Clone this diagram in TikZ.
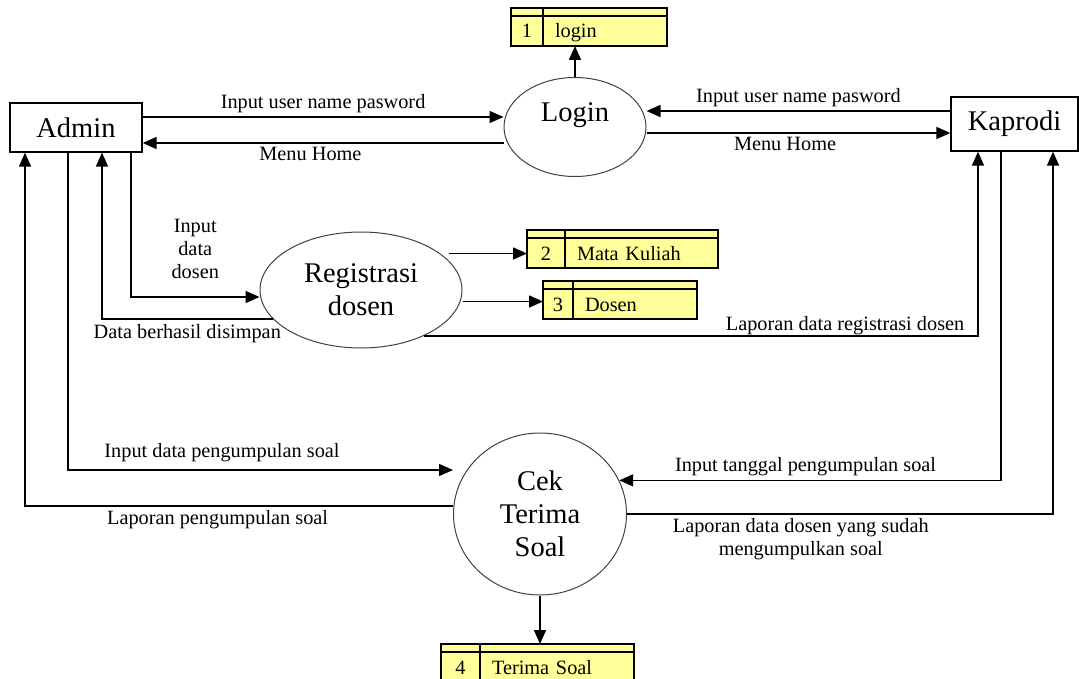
\documentclass[tikz,border=0pt]{standalone}
\usepackage{fontspec}
\setmainfont{Liberation Serif}
\usetikzlibrary{positioning, arrows.meta, shapes.geometric, calc}
\definecolor{store-yellow}{HTML}{FFFF99}
\definecolor{proc-grey}{HTML}{404040}

\tikzset{
  entity/.style={draw, line width=1.3pt, inner sep=0pt, font=\fontsize{28.5}{33}\selectfont},
  process/.style={ellipse, draw=proc-grey, line width=1pt, inner sep=0pt, align=center, font=\fontsize{28.5}{33}\selectfont},
  storecell/.style={draw, line width=1.3pt, fill=store-yellow, outer sep=0pt, inner sep=0pt,
    minimum height=38pt, text height=26pt, text depth=4pt, font=\fontsize{20.3}{23}\selectfont,
    path picture={\draw[line width=1.3pt] ([yshift=-8pt]path picture bounding box.north west) -- ([yshift=-8pt]path picture bounding box.north east);}},
  storename/.style={storecell, align=left},
  flow/.style={->, line width=1.6pt},
  flowlabel/.style={font=\fontsize{20.3}{23}\selectfont}
}

\begin{document}
\begin{tikzpicture}[x=1pt, y=-1pt, >={Triangle[length=14pt,width=12pt]}]
\useasboundingbox (0,0) rectangle (1079,679);

% external entities
\node[entity, minimum width=132pt, minimum height=49pt] (admin) at (76,127.5) {Admin};
\node[entity, minimum width=127pt, minimum height=54pt] (kaprodi) at (1014.5,124) {Kaprodi};

% processes
\node[process, minimum width=142pt, minimum height=99pt, text depth=30pt] (login) at (575,127) {Login};
\node[process, minimum width=202pt, minimum height=116pt] (reg) at (361,290) {Registrasi\\dosen};
\node[process, minimum width=173pt, minimum height=162pt] (cek) at (540,514) {Cek\\Terima\\Soal};

% data stores
\node[storecell, minimum width=32pt, anchor=north west] (s1n) at (511,8) {1};
\node[storename, minimum width=124pt, text width=100pt, right=0pt of s1n] (s1) {login};
\node[storecell, minimum width=38pt, anchor=north west] (s2n) at (527,230) {2};
\node[storename, minimum width=153pt, text width=129pt, right=0pt of s2n] (s2) {Mata Kuliah};
\node[storecell, minimum width=30pt, anchor=north west] (s3n) at (543,281) {3};
\node[storename, minimum width=124pt, text width=100pt, right=0pt of s3n] (s3) {Dosen};
\node[storecell, minimum width=39pt, anchor=north west] (s4n) at (441,644) {4};
\node[storename, minimum width=154pt, text width=130pt, right=0pt of s4n] (s4) {Terima Soal};

% login flows
\draw[flow] ([yshift=10.5pt]admin.east) -- ([yshift=10.5pt]admin.east -| login.west)
  node[flowlabel, midway, above] (l1) {Input user name pasword};
\draw[flow] ([yshift=-15.5pt]admin.east -| login.west) -- ([yshift=-15.5pt]admin.east)
  node[flowlabel, pos=0.535, below] (l2) {Menu Home};
\draw[flow] ([yshift=13pt]kaprodi.west) -- ([yshift=13pt]kaprodi.west -| login.east)
  node[flowlabel, midway, above] (l3) {Input user name pasword};
\draw[flow] ([yshift=-9pt]kaprodi.west -| login.east) -- ([yshift=-9pt]kaprodi.west)
  node[flowlabel, pos=0.456, below] (l4) {Menu Home};
\draw[flow] (login.north) -- (login.north |- s1n.south);

% registrasi flows
\draw[flow] ([xshift=55pt]admin.south) |- ([yshift=-7pt]reg.west)
  node[flowlabel, pos=0.75, above=14pt, align=center] (l5) {Input\\data\\dosen};
\draw[flow] (reg.198) -| ([xshift=26pt]admin.south)
  node[flowlabel, pos=0.25, below=2pt] (l6) {Data berhasil disimpan};
\draw[flow] ([yshift=-4.5pt]s2n.west -| reg.18) -- ([yshift=-4.5pt]s2n.west);
\draw[flow] ([yshift=-1.5pt]s3n.west -| reg.east) -- ([yshift=-1.5pt]s3n.west);
\draw[flow] (reg.-36) -| ([xshift=-36.5pt]kaprodi.south)
  node[flowlabel, pos=0.38, above=-3pt] (l7) {Laporan data registrasi dosen};

% cek terima soal flows
\draw[flow] ([xshift=-8pt]admin.south) |- ([yshift=44pt]cek.west)
  node[flowlabel, pos=0.7, above=4pt] (l8) {Input data pengumpulan soal};
\draw[flow] ([yshift=8pt]cek.west) -| ([xshift=-51pt]admin.south)
  node[flowlabel, pos=0.275, below] (l9) {Laporan pengumpulan soal};
\draw[flow] ([xshift=-13.5pt]kaprodi.south) |- (cek.23.5)
  node[flowlabel, pos=0.756, above] (l10) {Input tanggal pengumpulan soal};
\draw[flow] (cek.east) -| ([xshift=38.5pt]kaprodi.south)
  node[flowlabel, pos=0.204, below, align=center] (l11) {Laporan data dosen yang sudah\\mengumpulkan soal};
\draw[flow] (cek.south) -- (cek.south |- s4.north);
\end{tikzpicture}
\end{document}
